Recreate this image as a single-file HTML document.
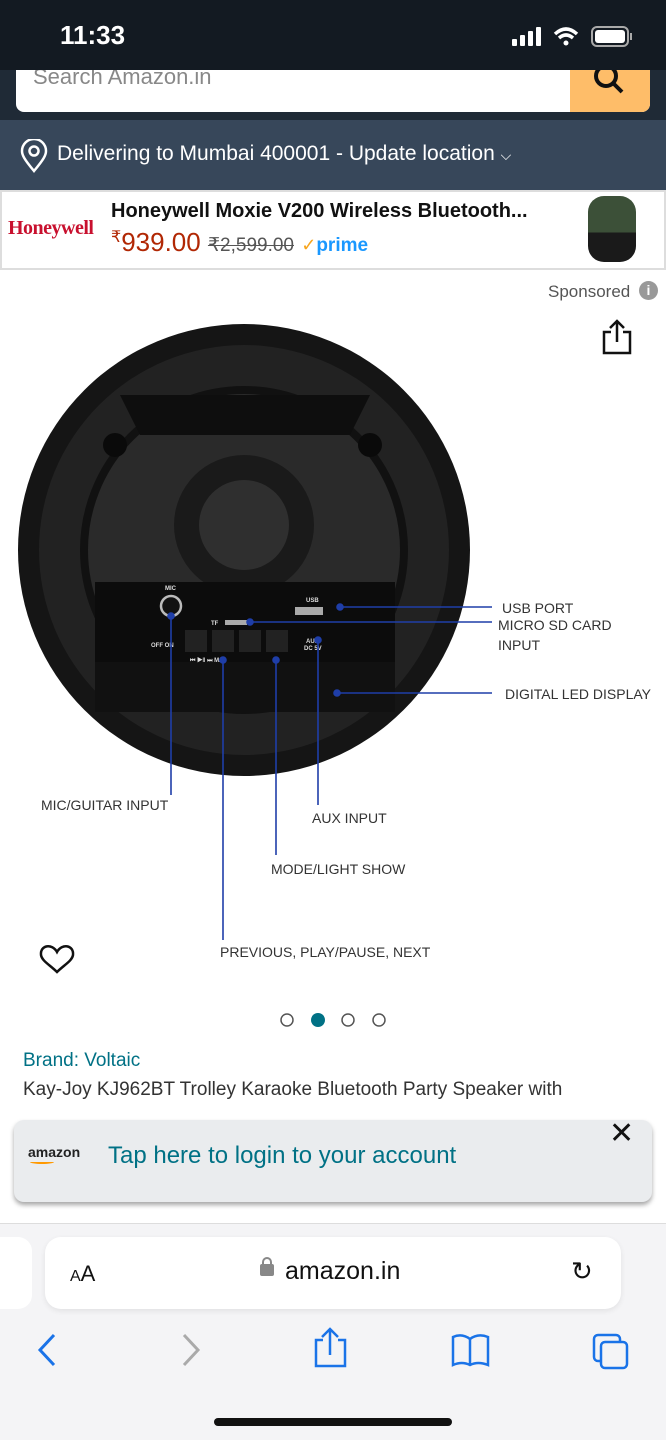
<!DOCTYPE html>
<html><head><meta charset="utf-8"><style>
*{margin:0;padding:0;box-sizing:border-box}
body{width:666px;height:1440px;position:relative;overflow:hidden;background:#fff;font-family:"Liberation Sans",sans-serif}
.a{position:absolute}
</style></head><body>
<div class="a" style="left:0;top:0;width:666px;height:120px;background:#1f2a36"></div>
<div class="a" style="left:16px;top:55px;width:634px;height:57px;background:#fff;border-radius:8px"></div>
<div class="a" style="left:570px;top:55px;width:80px;height:57px;background:#febd69;border-radius:0 8px 8px 0"></div>
<svg class="a" style="left:590px;top:62px" width="40" height="36"><circle cx="16" cy="14" r="10" stroke="#111" stroke-width="4" fill="none"/><line x1="23" y1="21" x2="32" y2="30" stroke="#111" stroke-width="4"/></svg>
<div class="a" style="left:33px;top:64px;font-size:22px;color:#888">Search Amazon.in</div>
<div class="a" style="left:0;top:0;width:666px;height:70px;background:#131a22"></div>
<div class="a" style="left:60px;top:20px;color:#fff;font-size:26px;font-weight:bold">11:33</div>
<svg class="a" style="left:510px;top:24px" width="125" height="26">
<rect x="2" y="15" width="5" height="7" rx="1" fill="#fff"/><rect x="10" y="11" width="5" height="11" rx="1" fill="#fff"/><rect x="18" y="7" width="5" height="15" rx="1" fill="#fff"/><rect x="26" y="3" width="5" height="19" rx="1" fill="#fff"/>
<path d="M45 10 Q56 0 67 10 M49 14 Q56 8 63 14" stroke="#fff" stroke-width="3.5" fill="none"/><circle cx="56" cy="19" r="2.5" fill="#fff"/>
<rect x="82" y="3" width="36" height="19" rx="5" stroke="#aaa" stroke-width="2" fill="none"/><rect x="85" y="6" width="30" height="13" rx="3" fill="#fff"/><rect x="120" y="9" width="2" height="7" fill="#aaa"/>
</svg>
<div class="a" style="left:0;top:120px;width:666px;height:70px;background:#37475a"></div>
<svg class="a" style="left:20px;top:139px" width="30" height="34"><path d="M14 32 C4 20 2 16 2 12 A12 12 0 0 1 26 12 C26 16 24 20 14 32Z" stroke="#fff" stroke-width="2.5" fill="none"/><circle cx="14" cy="12" r="4.5" stroke="#fff" stroke-width="2.5" fill="none"/></svg>
<div class="a" style="left:57px;top:142px;color:#fff;font-size:21px">Delivering to Mumbai 400001 - Update location <span style="font-size:14px">⌵</span></div>
<div class="a" style="left:0;top:190px;width:666px;height:80px;border:2px solid #ddd;background:#fff"></div>
<div class="a" style="left:8px;top:217px;color:#c8102e;font-size:20px;font-weight:bold;font-family:'Liberation Serif',serif;letter-spacing:-0.5px">Honeywell</div>
<div class="a" style="left:111px;top:200px;color:#111;font-size:20px;font-weight:bold">Honeywell Moxie V200 Wireless Bluetooth...</div>
<div class="a" style="left:111px;top:227px;color:#b12704;font-size:26px"><span style="font-size:16px;vertical-align:top">₹</span>939.00 <span style="color:#555;font-size:19px;text-decoration:line-through">₹2,599.00</span> <span style="color:#f7a51e;font-size:18px">✓</span><span style="color:#1a98ff;font-size:19px;font-weight:bold">prime</span></div>
<div class="a" style="left:588px;top:196px;width:48px;height:66px;border-radius:16px;background:linear-gradient(#3c5038 0,#3c5038 55%,#1a1a1a 55%)"></div>
<div class="a" style="left:548px;top:282px;color:#555;font-size:17px">Sponsored</div>
<div class="a" style="left:639px;top:281px;width:19px;height:19px;border-radius:50%;background:#999;color:#fff;font-size:14px;font-weight:bold;text-align:center;line-height:19px">i</div>
<svg class="a" style="left:600px;top:318px" width="34" height="38"><path d="M11 14 H4 V35 H30 V14 H23" stroke="#111" stroke-width="2.5" fill="none"/><path d="M17 24 V3 M10 10 L17 3 L24 10" stroke="#111" stroke-width="2.5" fill="none"/></svg>
<svg class="a" style="left:0;top:300px" width="666" height="690">
<circle cx="244" cy="250" r="226" fill="#151515"/>
<circle cx="244" cy="250" r="205" fill="#222"/>
<circle cx="244" cy="250" r="160" fill="#2a2a2a" stroke="#111" stroke-width="8"/>
<path d="M120 95 L370 95 L350 135 L140 135Z" fill="#0e0e0e"/>
<circle cx="115" cy="145" r="12" fill="#0a0a0a"/><circle cx="370" cy="145" r="12" fill="#0a0a0a"/>
<circle cx="113" cy="352" r="12" fill="#0a0a0a"/><circle cx="375" cy="350" r="12" fill="#0a0a0a"/>
<circle cx="244" cy="225" r="70" fill="#1a1a1a"/><circle cx="244" cy="225" r="45" fill="#2f2f2f"/>
<rect x="95" y="282" width="300" height="80" fill="#0c0c0c"/>
<rect x="95" y="362" width="300" height="50" fill="#111"/>
<circle cx="171" cy="306" r="10" stroke="#bbb" stroke-width="2.5" fill="#111"/>
<rect x="225" y="320" width="22" height="5" fill="#aaa"/><rect x="295" y="307" width="28" height="8" fill="#aaa"/>
<rect x="185" y="330" width="22" height="22" fill="#222"/><rect x="212" y="330" width="22" height="22" fill="#222"/><rect x="239" y="330" width="22" height="22" fill="#222"/><rect x="266" y="330" width="22" height="22" fill="#222"/>
<g font-family="Liberation Sans" font-size="6" fill="#ddd" font-weight="bold"><text x="165" y="290">MIC</text><text x="306" y="302">USB</text><text x="211" y="325">TF</text><text x="151" y="347">OFF ON</text><text x="306" y="343">AUX</text><text x="304" y="350">DC 5V</text><text x="190" y="362">⏮  ▶‖  ⏭  M/♀</text></g>
<g stroke="#1f3ea8" stroke-width="1.6" fill="#1f3ea8">
<line x1="340" y1="307" x2="492" y2="307"/><circle cx="340" cy="307" r="3"/>
<line x1="250" y1="322" x2="492" y2="322"/><circle cx="250" cy="322" r="3"/>
<line x1="337" y1="393" x2="492" y2="393"/><circle cx="337" cy="393" r="3"/>
<line x1="171" y1="316" x2="171" y2="495"/><circle cx="171" cy="316" r="3"/>
<line x1="223" y1="360" x2="223" y2="640"/><circle cx="223" cy="360" r="3"/>
<line x1="276" y1="360" x2="276" y2="555"/><circle cx="276" cy="360" r="3"/>
<line x1="318" y1="340" x2="318" y2="505"/><circle cx="318" cy="340" r="3"/>
</g>
<g font-family="Liberation Sans" font-size="14" fill="#333">
<text x="502" y="313">USB PORT</text><text x="498" y="330">MICRO SD CARD</text><text x="498" y="350">INPUT</text>
<text x="505" y="399">DIGITAL LED DISPLAY</text>
<text x="41" y="510">MIC/GUITAR INPUT</text><text x="312" y="523">AUX INPUT</text>
<text x="271" y="574">MODE/LIGHT SHOW</text><text x="220" y="657">PREVIOUS, PLAY/PAUSE, NEXT</text>
</g>
<path d="M57 652 C52 643 40 645 41 655 C42 661 50 665 57 672 C64 665 72 661 73 655 C74 645 62 643 57 652Z" stroke="#111" stroke-width="2.5" fill="none"/>
</svg>
<svg class="a" style="left:270px;top:1008px" width="130" height="24"><circle cx="17" cy="12" r="6" stroke="#555" stroke-width="1.5" fill="none"/><circle cx="48" cy="12" r="7" fill="#007185"/><circle cx="78" cy="12" r="6" stroke="#555" stroke-width="1.5" fill="none"/><circle cx="109" cy="12" r="6" stroke="#555" stroke-width="1.5" fill="none"/></svg>
<div class="a" style="left:23px;top:1050px;color:#007185;font-size:19px">Brand: Voltaic</div>
<div class="a" style="left:23px;top:1079px;color:#333;font-size:19px">Kay-Joy KJ962BT Trolley Karaoke Bluetooth Party Speaker with</div>
<div class="a" style="left:14px;top:1120px;width:638px;height:82px;background:#eaecee;border-radius:10px;box-shadow:0 3px 5px rgba(0,0,0,.35)"></div>
<div class="a" style="left:28px;top:1144px;font-size:14px;font-weight:bold;color:#222">amazon</div>
<div class="a" style="left:30px;top:1160px;width:24px;height:4px;border-bottom:2px solid #f90;border-radius:0 0 50% 50%"></div>
<div class="a" style="left:108px;top:1142px;color:#007185;font-size:24px">Tap here to login to your account</div>
<div class="a" style="left:609px;top:1116px;font-size:30px;color:#111">✕</div>
<div class="a" style="left:0;top:1223px;width:666px;height:217px;background:#f4f4f6;border-top:1px solid #ddd"></div>
<div class="a" style="left:-20px;top:1237px;width:52px;height:72px;background:#fff;border-radius:14px"></div>
<div class="a" style="left:45px;top:1237px;width:576px;height:72px;background:#fff;border-radius:16px;box-shadow:0 2px 6px rgba(0,0,0,.08)"></div>
<div class="a" style="left:70px;top:1261px;font-size:22px;color:#111"><span style="font-size:16px">A</span>A</div>
<div class="a" style="left:260px;top:1264px;width:14px;height:12px;background:#888;border-radius:2px"></div>
<div class="a" style="left:262px;top:1257px;width:10px;height:10px;border:2px solid #888;border-radius:5px 5px 0 0"></div>
<div class="a" style="left:285px;top:1257px;font-size:25px;color:#111">amazon.in</div>
<div class="a" style="left:571px;top:1256px;font-size:26px;color:#111">↻</div>
<svg class="a" style="left:0;top:1325px" width="666" height="50">
<path d="M54 10 L40 25 L54 40" stroke="#1a73e8" stroke-width="3" fill="none"/>
<path d="M184 10 L198 25 L184 40" stroke="#aaa" stroke-width="3" fill="none"/>
<path d="M323 15 H316 V41 H345 V15 H338 M330 30 V5 M322 12 L330 4 L338 12" stroke="#1a73e8" stroke-width="2.5" fill="none"/>
<path d="M453 12 Q462 8 470 14 Q478 8 488 12 V40 Q478 36 470 40 Q462 36 453 40Z M470 14 V40" stroke="#1a73e8" stroke-width="2.5" fill="none"/>
<rect x="594" y="10" width="26" height="26" rx="4" stroke="#1a73e8" stroke-width="2.5" fill="none"/><rect x="601" y="17" width="26" height="26" rx="4" stroke="#1a73e8" stroke-width="2.5" fill="#f4f4f6"/>
</svg>
<div class="a" style="left:214px;top:1418px;width:238px;height:8px;background:#111;border-radius:4px"></div>
</body></html>
